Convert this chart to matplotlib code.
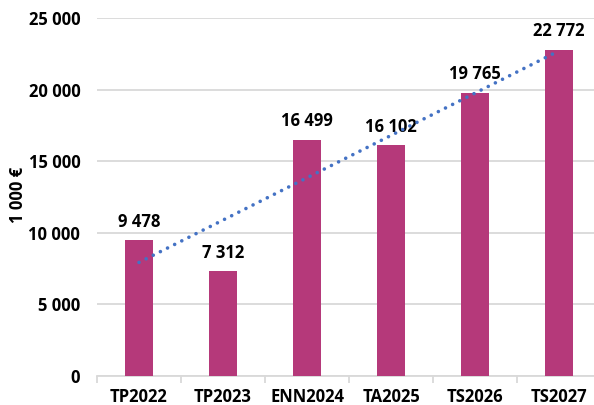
import numpy as np
import matplotlib.pyplot as plt

plt.rcParams['font.family'] = ['Open Sans', 'DejaVu Sans']

categories = ['TP2022', 'TP2023', 'ENN2024', 'TA2025', 'TS2026', 'TS2027']
values = [9478, 7312, 16499, 16102, 19765, 22772]

bar_color = '#B5397A'
trend_color = '#4472C4'
grid_color = '#D9D9D9'

fig = plt.figure(figsize=(5.94, 4.05), dpi=100)
# axes extends slightly past the right edge, like the original
ax = fig.add_axes([97 / 594, 29 / 405, 504 / 594, 358 / 405])

x = np.arange(len(categories))
ax.bar(x, values, width=0.33, color=bar_color, zorder=3)

# linear trend line
k, b = np.polyfit(x, values, 1)
ax.plot(x, k * x + b, linestyle=(0, (0.01, 2.2)), color=trend_color, linewidth=2.6,
        dash_capstyle='round', solid_capstyle='round', zorder=4)

for xi, v in zip(x, values):
    ax.annotate(f'{v:,}'.replace(',', ' '), (xi, v), xytext=(0, 7),
                textcoords='offset points', ha='center', va='bottom',
                fontsize=12, fontweight='bold')

ax.set_xlim(-0.5, len(categories) - 0.5)
ax.set_ylim(0, 25000)
ax.set_yticks(np.arange(0, 25001, 5000))
ax.set_yticklabels([f'{t:,}'.replace(',', ' ') for t in range(0, 25001, 5000)],
                   fontsize=12, fontweight='bold')
ax.yaxis.grid(True, color=grid_color, linewidth=1.3, zorder=0)
ax.tick_params(axis='y', length=0, pad=12)

ax.set_xticks(x)
ax.set_xticklabels(categories, fontsize=12, fontweight='bold')
ax.set_xticks(np.arange(-0.5, len(categories)), minor=True)
ax.tick_params(axis='x', which='major', length=0, pad=9)
ax.tick_params(axis='x', which='minor', length=5, color=grid_color, width=1.3)

for s in ['top', 'right', 'left']:
    ax.spines[s].set_visible(False)
ax.spines['bottom'].set_color(grid_color)
ax.spines['bottom'].set_linewidth(1.3)

fig.text(18 / 594, 1 - 195 / 405, '1 000 €', rotation=90, ha='center', va='center',
         fontsize=12, fontweight='bold')

fig.savefig('out.png', dpi=100)
